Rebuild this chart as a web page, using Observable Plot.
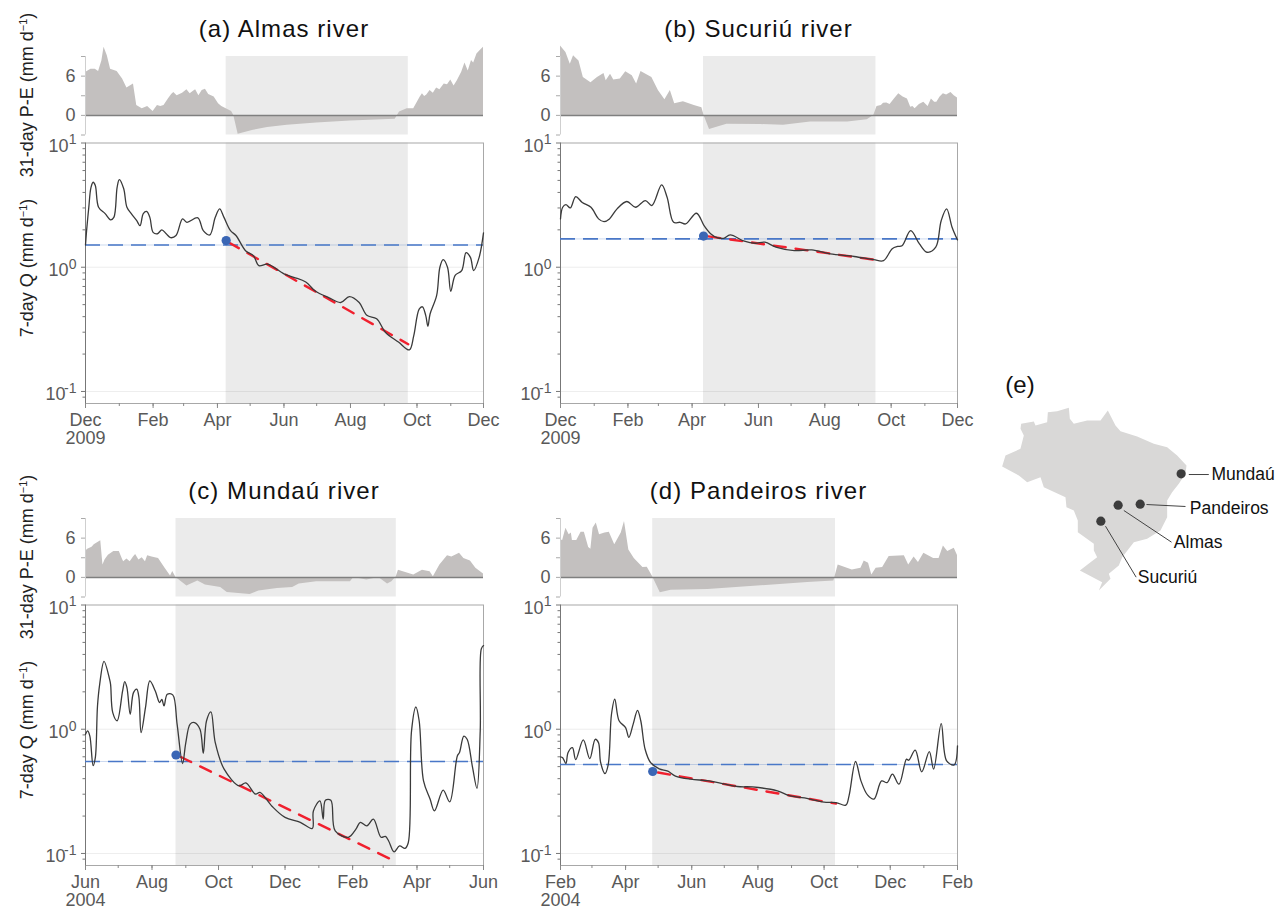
<!DOCTYPE html>
<html><head><meta charset="utf-8">
<style>
html,body{margin:0;padding:0;background:#fff}
#fig{position:relative;width:1287px;height:909px;overflow:hidden;font-family:"Liberation Sans",Arial,sans-serif}
#fig svg{position:absolute;background:transparent;overflow:visible;max-width:none}
.title{position:absolute;font-size:24px;letter-spacing:1.05px;color:#111;transform:translateX(-50%);white-space:pre}
.ylab{position:absolute;font-size:18px;color:#222;white-space:nowrap;transform:translate(-50%,-50%) rotate(-90deg)}
.ylab sup{font-size:11px;line-height:0;vertical-align:6px}
</style>
<script src="https://cdn.jsdelivr.net/npm/d3@7"></script>
<script src="https://cdn.jsdelivr.net/npm/@observablehq/plot@0.6"></script>
</head><body><div id="fig"></div>
<script>
// (a) Almas river
const almasPEDays=[0,5,9,12,15,17,20,23,29,34,38,44,47,52,57,62,66,69,72,76,79,81,84,89,93,96,99,101,104,107,110,113,118,122,125,134,136,140,154,167,185,212,243,284,288,295,301,307,309,311,313,316,319,322,325,329,332,335,338,341,345,348,351,354,356,359,362,365];
const almasPE=[6.55,7.06,7.06,6.7,8.3,10.4,9.1,7.06,6.7,5.55,4.2,4.8,1.5,1.0,1.36,0.6,1.5,1.36,1.5,2.5,3.2,3.5,3.0,3.4,3.9,3.3,3.7,3.9,3.0,3.8,4.0,3.2,2.8,1.76,1.36,0.6,0,-2.87,-2.27,-1.87,-1.5,-1.16,-0.86,-0.6,0.5,1.0,1.0,2.8,3.3,2.9,3.1,3.8,3.4,4.2,3.9,4.8,4.7,5.4,4.5,5.3,6.6,8.0,6.8,8.4,8.0,9.4,9.9,10.4];
const almasQDays=[0,1,3,5,7,9,12,18,23,26,29,31,35,38,42,47,50,53,56,59,62,66,70,74,78,83,89,93,103,108,114,119,123,127,133,138,147,154,159,167,182,191,202,211,223,234,242,251,258,267,275,287,297,301,306,309,312,314,316,322,325,328,332,335,339,345,349,353,356,361,365];
const almasQ=[1.51,1.97,3.02,4.37,4.83,4.54,3.04,2.70,2.41,2.52,4.40,5.08,4.30,3.04,2.70,2.37,2.16,2.70,2.81,2.52,1.91,1.86,2.0,1.86,1.73,1.80,2.45,2.30,2.50,1.97,1.82,2.52,2.95,2.52,1.97,1.80,1.35,1.24,1.03,1.06,0.885,0.83,0.76,0.64,0.57,0.52,0.58,0.52,0.41,0.385,0.30,0.25,0.216,0.28,0.46,0.48,0.41,0.335,0.42,0.59,1.0,1.15,1.0,0.64,0.86,0.94,1.31,1.20,0.94,1.20,1.89];

// (b) Sucuriú river
const sucuriuPEDays=[0,5,9,12,17,21,28,34,40,42,46,49,55,60,66,70,74,84,90,96,101,105,113,123,130,132,137,153,184,205,230,264,282,288,291,295,297,300,303,307,311,315,319,322,324,326,330,334,338,341,344,346,349,352,355,359,362,365];
const sucuriuPE=[10.6,9.6,7.8,9.1,8.3,5.8,5.0,5.8,6.4,5.3,6.3,5.4,5.55,6.65,6.05,4.8,6.7,5.8,3.8,2.4,3.8,1.76,2.1,1.5,1.16,0,-2.17,-1.36,-1.4,-1.5,-1.0,-1.0,-0.66,0,1.36,1.5,1.87,1.9,1.66,2.5,3.3,2.8,2.5,1.26,1.36,1.0,1.66,2.0,1.36,2.5,2.0,2.0,2.8,3.3,3.1,3.5,3.0,2.67];
const sucuriuQDays=[0,2,5,9,14,20,28,35,40,45,52,61,69,78,84,93,98,104,110,115,125,132,138,144,150,156,169,179,188,198,215,231,248,270,288,297,305,310,314,322,330,337,345,350,355,360,365];
const sucuriuQ=[2.45,3.04,3.19,3.0,3.70,3.32,3.04,2.45,2.33,2.45,2.95,3.38,3.04,3.44,3.14,4.6,3.66,2.30,2.30,2.23,2.72,2.16,1.86,1.73,1.71,1.82,1.62,1.56,1.59,1.45,1.36,1.38,1.28,1.22,1.15,1.13,1.41,1.47,1.49,1.97,1.54,1.32,1.45,2.37,2.95,2.10,1.66];

// (c) Mundaú river
const mundauPEDays=[0,2,6,8,11,14,16,18,21,26,31,34,35,38,41,44,46,49,52,55,57,61,67,73,78,80,83,93,103,110,124,130,151,159,176,190,196,212,243,246,258,269,277,281,285,287,301,309,316,319,325,332,336,343,347,353,358,365];
const mundauPE=[3.95,4.3,4.6,5.0,5.3,5.6,1.9,2.7,3.4,3.95,3.95,2.75,2.4,2.8,2.4,3.1,3.5,2.67,3.0,2.4,3.3,3.1,2.9,1.4,0.2,0.9,0,-1.33,-0.56,-1.18,-1.54,-2.3,-2.6,-2.1,-1.7,-1.54,-1.0,-0.67,-0.67,0,-0.4,0,-1.0,-0.67,0.1,1.1,0.36,1.1,0.87,0.1,1.9,3.3,3.1,3.7,2.9,2.5,1.4,0.5];
const mundauQDays=[0,2,4,7,9,11,13,17,22,23,25,29,34,36,38,41,44,47,49,51,55,59,64,68,70,72,75,80,84,89,92,96,100,105,108,111,115,119,127,141,147,156,160,171,183,197,208,209,215,218,220,225,229,241,248,252,258,264,271,275,278,283,288,293,296,299,303,306,310,316,320,328,334,341,343,347,350,355,359,362,363,365];
const mundauQ=[0.91,0.97,0.88,0.51,0.59,1.54,2.30,3.52,2.54,2.30,1.36,1.17,2.03,2.42,2.16,1.32,1.97,2.10,1.80,0.94,1.49,2.45,2.03,1.64,1.74,1.54,1.91,1.89,1.10,0.53,0.78,1.10,1.13,1.0,0.64,1.17,1.38,0.78,0.48,0.35,0.37,0.30,0.31,0.24,0.195,0.178,0.159,0.22,0.265,0.189,0.268,0.268,0.152,0.135,0.157,0.178,0.167,0.189,0.135,0.137,0.126,0.103,0.115,0.11,0.122,0.97,1.51,1.17,0.384,0.274,0.22,0.323,0.26,0.61,0.65,0.88,0.83,0.49,0.335,0.97,4.43,4.71];

// (d) Pandeiros river
const pandeirosPEDays=[0,2,5,8,10,11,15,19,22,26,28,30,33,36,41,45,50,56,59,63,68,76,80,85,92,102,136,185,228,252,256,269,277,280,284,287,291,297,303,317,321,326,330,335,344,349,353,357,363,366];
const pandeirosPE=[5.74,5.64,7.5,6.5,6.8,5.64,5.64,6.9,6.9,4.56,4.3,7.5,8.3,6.5,6.8,6.9,5.0,6.8,8.56,4.2,2.9,1.5,1.54,0.1,-2.36,-1.95,-1.85,-1.28,-0.77,-0.56,1.9,1.13,1.38,2.5,2.15,0.36,1.38,1.5,3.2,3.3,1.9,3.1,2.26,3.7,2.9,2.9,4.8,3.95,4.46,3.33];
const pandeirosQDays=[0,2,5,7,11,14,21,27,32,35,37,41,44,47,50,54,60,63,67,71,74,78,83,91,99,106,120,137,163,177,200,211,225,243,254,263,266,272,277,283,289,296,301,306,312,319,321,327,333,340,344,351,356,363,366];
const pandeirosQ=[0.60,0.59,0.53,0.65,0.71,0.57,0.82,0.58,0.83,0.78,0.54,0.44,0.52,1.32,1.75,1.17,1.03,0.86,1.10,1.42,1.17,0.69,0.54,0.48,0.46,0.42,0.396,0.384,0.346,0.343,0.319,0.292,0.28,0.259,0.257,0.245,0.291,0.55,0.384,0.296,0.274,0.384,0.372,0.435,0.361,0.574,0.563,0.678,0.454,0.661,0.477,1.11,0.556,0.517,0.735];

const panelTitles=["(a) Almas river","(b) Sucuriú river","(c) Mundaú river","(d) Pandeiros river"];
const startYears=[2009,2009,2004,2004];
const startMonths=[11,11,5,1];
const dryStart=[129,131.5,83,85];
const dryEnd=[296,290,285,253.5];
const thresholds=[1.51,1.69,0.55,0.52];
const onsetDays=[129,131.5,83,85];
const onsetQ=[1.64,1.78,0.62,0.457];
const fitStartDays=[131,136,87,90];
const fitStartQ=[1.59,1.77,0.60,0.448];
const fitEndDays=[296,288,283,254];
const fitEndQ=[0.24,1.15,0.0873,0.252];

const qTicksMinor=[0.09,0.2,0.3,0.4,0.5,0.6,0.7,0.8,0.9,2,3,4,5,6,7,8,9];
const qTicksMajor=[0.1,1,10];
const qLabelExp=["-1","0","1"];
const peTicks=[-3,0,3,6,9];
const peLabels=[0,6];

// (e) map: approximate outline, longitude / latitude
const outlineLon=[-69.85,-67.18,-66.83,-64.37,-64.22,-62.26,-59.79,-59.58,-58.74,-55.93,-53.11,-51.57,-49.95,-48.89,-45.38,-41.86,-39.05,-36.94,-34.97,-35.18,-36.59,-38.0,-39.05,-39.05,-40.46,-43.27,-46.08,-48.54,-49.25,-51.36,-51.0,-53.46,-52.76,-57.47,-55.22,-53.82,-54.52,-54.52,-57.9,-57.9,-58.74,-60.29,-60.5,-65.07,-65.77,-68.58,-70.34,-73.86,-73.16,-70.0,-69.29,-69.99];
const outlineLat=[1.83,2.32,1.47,2.18,4.31,4.52,5.23,2.89,1.82,2.53,2.53,4.66,1.47,0.26,-0.87,-2.43,-3.14,-4.91,-7.04,-8.81,-10.94,-12.71,-14.49,-18.03,-20.87,-22.64,-23.35,-26.54,-28.32,-30.09,-31.15,-33.64,-31.86,-29.38,-27.61,-26.54,-25.13,-23.71,-21.22,-18.74,-16.61,-15.91,-13.78,-11.65,-9.52,-10.59,-9.17,-7.25,-4.91,-3.49,-0.66,0.76];
const siteNames=["Mundaú","Pandeiros","Almas","Sucuriú"];
const siteLon=[-36.1,-44.74,-49.39,-53.04];
const siteLat=[-8.81,-15.27,-15.48,-18.88];
const leaderLon1=[-34.48,-43.41,-48.19,-52.06];
const leaderLat1=[-8.96,-15.34,-16.61,-19.95];
const leaderLon2=[-30.26,-35.18,-38.13,-45.59];
const leaderLat2=[-8.96,-15.76,-23.35,-30.8];
const labelLon=[-29.7,-34.27,-37.64,-45.24];
const labelLat=[-8.96,-16.12,-23.5,-30.8];

const seriesPE=[[almasPEDays,almasPE],[sucuriuPEDays,sucuriuPE],[mundauPEDays,mundauPE],[pandeirosPEDays,pandeirosPE]];
const seriesQ=[[almasQDays,almasQ],[sucuriuQDays,sucuriuQ],[mundauQDays,mundauQ],[pandeirosQDays,pandeirosQ]];

const fig=document.getElementById("fig");
const tickText="#595959", FONT='"Liberation Sans",Arial,sans-serif';

function place(svg,left,top){svg.style.left=left+"px";svg.style.top=top+"px";fig.appendChild(svg);}
function addDiv(cls,html,css){const d=document.createElement("div");d.className=cls;d.innerHTML=html;Object.assign(d.style,css);fig.appendChild(d);}

const MT=15,ML=85;
function panel(i,x0,x1,rowOff){
  const yr=startYears[i],mo=startMonths[i];
  const dt=d=>new Date(Date.UTC(yr,mo,1)+d*864e5);
  const start=dt(0),end=new Date(Date.UTC(yr+1,mo,1));
  const w=ML+(x1-x0)+30;
  const dry=[{x1:dt(dryStart[i]),x2:dt(dryEnd[i])}];
  const pe=seriesPE[i][0].map((d,k)=>({date:dt(d),v:seriesPE[i][1][k]}));
  const q=seriesQ[i][0].map((d,k)=>({date:dt(d),v:seriesQ[i][1][k]}));
  const top=Plot.plot({
    width:w,height:MT+78.5+8,marginLeft:ML,marginRight:30,marginTop:MT,marginBottom:8,
    style:{fontFamily:FONT,color:tickText,background:"transparent"},
    x:{type:"utc",domain:[start,end],axis:null},y:{domain:[-3,9]},
    marks:[
      Plot.rect(dry,{x1:"x1",x2:"x2",y1:-3,y2:9,fill:"#ebebeb"}),
      Plot.areaY(pe,{x:"date",y1:0,y2:"v",fill:"#c3c0bf"}),
      Plot.ruleY([0],{stroke:"#7f7f7f",strokeWidth:1.5}),
      Plot.ruleX([start],{y1:-3,y2:9,stroke:"#cfcfcf"}),
      Plot.axisY({ticks:peTicks,tickSize:4,tickPadding:6,stroke:"#aaa",fill:tickText,fontSize:18,label:null,
        tickFormat:d=>peLabels.includes(d)?String(d):""})
    ]});
  place(top,x0-ML,56+rowOff-MT);
  const months=d3.utcMonth.range(start,new Date(+end+1));
  const major=months.filter((m,k)=>k%2===0);
  const bottom=Plot.plot({
    width:w,height:315,marginLeft:ML,marginRight:30,marginTop:10.5,marginBottom:44,
    style:{fontFamily:FONT,color:tickText,background:"transparent"},
    x:{type:"utc",domain:[start,end]},y:{type:"log",domain:[0.08,10]},
    marks:[
      Plot.rect(dry,{x1:"x1",x2:"x2",y1:0.08,y2:10,fill:"#ebebeb"}),
      Plot.ruleY([0.1,1],{stroke:"#000",strokeOpacity:0.07}),
      Plot.frame({stroke:"#a8a8a8"}),
      Plot.ruleX([start],{y1:0.08,y2:10,stroke:"#777"}),
      Plot.axisY({ticks:qTicksMinor,tickSize:2.5,stroke:"#777",tickFormat:()=>"",label:null}),
      Plot.axisY({ticks:qTicksMajor,tickSize:4,stroke:"#777",tickFormat:()=>"",label:null}),
      Plot.axisX({ticks:months,tickSize:3,stroke:"#888",tickFormat:()=>"",label:null}),
      Plot.axisX({ticks:major,tickSize:5,tickPadding:5,stroke:"#888",fill:tickText,fontSize:18,lineHeight:1,label:null,
        tickFormat:d=>+d===+start?`${d3.utcFormat("%b")(d)}\n${yr}`:d3.utcFormat("%b")(d)}),
      Plot.text([0.1],{y:d=>d,frameAnchor:"left",text:()=>"10",textAnchor:"end",fontSize:18,fill:tickText,dy:3,dx:-20}),
      Plot.text([1,10],{y:d=>d,frameAnchor:"left",text:()=>"10",textAnchor:"end",fontSize:18,fill:tickText,dy:3,dx:-17}),
      Plot.text(qTicksMajor,{y:d=>d,frameAnchor:"left",text:d=>qLabelExp[qTicksMajor.indexOf(d)],textAnchor:"end",fontSize:14,fill:tickText,dy:-3,dx:-9}),
      Plot.ruleY([thresholds[i]],{stroke:"#4a78c8",strokeWidth:1.6,strokeDasharray:"15 8"}),
      Plot.ruleY([thresholds[i]],{stroke:"#4a78c8",strokeWidth:0.8,strokeOpacity:0.35}),
      Plot.line([{x:dt(fitStartDays[i]),y:fitStartQ[i]},{x:dt(fitEndDays[i]),y:fitEndQ[i]}],{x:"x",y:"y",stroke:"#f0202e",strokeWidth:2.4,strokeDasharray:"12 10"}),
      Plot.line(q,{x:"date",y:"v",stroke:"#3a3a3a",strokeWidth:1.3,curve:"catmull-rom"}),
      Plot.dot([{x:dt(onsetDays[i]),y:onsetQ[i]}],{x:"x",y:"y",r:4.6,fill:"#3a66b5",stroke:"none"})
    ]});
  place(bottom,x0-ML,132+rowOff);
  addDiv("title",panelTitles[i],{left:((x0+x1)/2)+"px",top:(15+rowOff)+"px"});
}
panel(0,85,483,0);
panel(1,560,957,0);
panel(2,85,483,462);
panel(3,560,957,462);

for(const off of [0,462]){
  addDiv("ylab",'31-day P-E (mm d<sup>−1</sup>)',{left:"27px",top:(95+off)+"px"});
  addDiv("ylab",'7-day Q (mm d<sup>−1</sup>)',{left:"27px",top:(268+off)+"px"});
}

const outline=outlineLon.map((x,k)=>({x,y:outlineLat[k]}));
const sites=siteNames.map((name,k)=>({name,lon:siteLon[k],lat:siteLat[k],x1:leaderLon1[k],y1:leaderLat1[k],x2:leaderLon2[k],y2:leaderLat2[k],tx:labelLon[k],ty:labelLat[k]}));
const map=Plot.plot({
  width:297,height:240,margin:0,
  style:{fontFamily:FONT,background:"transparent"},
  x:{domain:[-76.32,-13.66],axis:null},y:{domain:[-35.76,15.3],axis:null},
  marks:[
    Plot.line(outline,{x:"x",y:"y",fill:"#d9d8d7",stroke:"none"}),
    Plot.link(sites,{x1:"x1",y1:"y1",x2:"x2",y2:"y2",stroke:"#444",strokeWidth:1}),
    Plot.dot(sites,{x:"lon",y:"lat",r:4.6,fill:"#3c3c3c",stroke:"none"}),
    Plot.text(sites,{x:"tx",y:"ty",text:"name",textAnchor:"start",fontSize:17.5,fill:"#111"})
  ]});
place(map,990,360);
addDiv("title","(e)",{left:"1020px",top:"371px",letterSpacing:"0"});
</script></body></html>
